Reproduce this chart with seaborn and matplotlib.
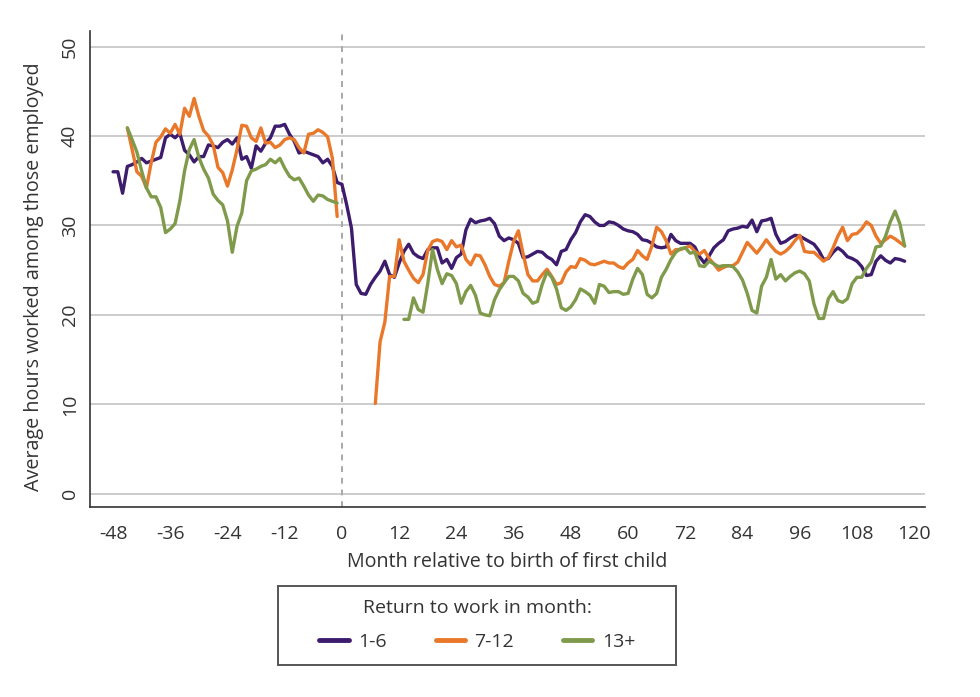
import numpy as np
import pandas as pd
import matplotlib.pyplot as plt
import seaborn as sns
from matplotlib.patches import Rectangle

# hours worked among those employed, by month relative to first birth
# return to work in month 1-6
months_1_6 = list(range(-48, 119))
hours_1_6 = [36.0, 36.0, 33.6, 36.6, 36.8, 37.1, 37.5, 37.0, 37.2, 37.4,
             37.6, 39.8, 40.2, 39.8, 40.3, 38.4, 37.9, 37.1, 37.7, 37.7,
             39.0, 38.9, 38.7, 39.3, 39.6, 39.1, 39.8, 37.4, 37.7, 36.4,
             38.9, 38.3, 39.2, 39.8, 41.1, 41.1, 41.3, 40.2, 39.4, 38.1,
             38.3, 38.1, 37.9, 37.7, 37.0, 37.4, 36.6, 34.8, 34.6, 32.3,
             29.7, 23.4, 22.4, 22.3, 23.4, 24.2, 24.9, 26.0, 24.5, 24.2,
             25.8, 27.1, 27.9, 26.9, 26.5, 26.3, 27.3, 27.5, 27.5, 25.8,
             26.2, 25.2, 26.4, 26.8, 29.5, 30.7, 30.3, 30.5, 30.6, 30.8,
             30.2, 28.8, 28.3, 28.6, 28.4, 28.0, 26.4, 26.5, 26.8, 27.1,
             27.0, 26.5, 26.2, 25.6, 27.1, 27.3, 28.4, 29.2, 30.4, 31.2,
             31.0, 30.4, 30.0, 30.0, 30.4, 30.3, 30.0, 29.6, 29.4, 29.3,
             29.0, 28.4, 28.3, 28.0, 27.6, 27.5, 27.6, 29.0, 28.3, 28.0,
             28.0, 28.0, 27.6, 26.5, 25.8, 26.6, 27.5, 28.0, 28.4, 29.4,
             29.6, 29.7, 29.9, 29.8, 30.6, 29.3, 30.5, 30.6, 30.8, 29.0,
             28.0, 28.2, 28.6, 28.9, 28.8, 28.5, 28.2, 27.9, 27.2, 26.2,
             26.3, 27.0, 27.5, 27.1, 26.5, 26.3, 26.0, 25.4, 24.4, 24.5,
             26.0, 26.6, 26.1, 25.8, 26.3, 26.2, 26.0]

# return to work in month 7-12
months_7_12_pre = list(range(-45, 0))
hours_7_12_pre = [40.9, 38.5, 36.0, 35.5, 34.2, 37.0, 39.3, 39.9, 40.8, 40.3,
                  41.3, 40.2, 43.1, 42.2, 44.2, 42.2, 40.6, 40.0, 39.0, 36.5,
                  35.9, 34.4, 36.2, 38.5, 41.2, 41.1, 39.8, 39.4, 40.9, 39.2,
                  39.3, 38.7, 39.0, 39.6, 39.8, 39.6, 38.7, 38.1, 40.2, 40.3,
                  40.7, 40.4, 39.9, 37.5, 31.0]
months_7_12_post = list(range(7, 119))
hours_7_12_post = [10.1, 17.0, 19.2, 24.3, 24.3, 28.4, 26.0, 25.0, 24.1, 23.6,
                   24.5, 27.2, 28.2, 28.4, 28.2, 27.3, 28.3, 27.6, 27.8, 26.2,
                   25.6, 26.7, 26.6, 25.6, 24.3, 23.4, 23.2, 23.6, 26.0, 28.2,
                   29.4, 26.8, 24.5, 23.8, 23.8, 24.5, 25.1, 24.3, 23.4, 23.6,
                   24.8, 25.4, 25.3, 26.3, 26.1, 25.7, 25.6, 25.8, 26.0, 25.8,
                   25.8, 25.4, 25.2, 25.8, 26.2, 27.2, 26.6, 26.2, 27.7, 29.8,
                   29.3, 28.3, 26.8, 27.3, 27.3, 27.5, 27.7, 27.1, 26.8, 27.2,
                   26.3, 25.7, 25.0, 25.3, 25.5, 25.5, 25.9, 27.0, 28.1, 27.5,
                   26.9, 27.6, 28.4, 27.7, 27.1, 26.8, 27.1, 27.6, 28.3, 28.9,
                   27.1, 27.0, 27.0, 26.5, 26.0, 26.4, 27.5, 28.8, 29.8, 28.3,
                   29.0, 29.1, 29.6, 30.4, 30.0, 28.8, 28.0, 28.4, 28.8, 28.5,
                   28.1, 27.7]

# return to work in month 13+
months_13_pre = list(range(-45, 0))
hours_13_pre = [40.9, 39.6, 38.2, 36.1, 34.2, 33.2, 33.2, 32.0, 29.2, 29.6,
                30.2, 32.7, 36.1, 38.5, 39.6, 37.6, 36.3, 35.3, 33.5, 32.8,
                32.3, 30.5, 27.0, 29.9, 31.4, 35.0, 36.1, 36.3, 36.6, 36.8,
                37.4, 37.0, 37.5, 36.4, 35.5, 35.1, 35.3, 34.4, 33.4, 32.7,
                33.4, 33.3, 32.9, 32.7, 32.5]
months_13_post = list(range(13, 119))
hours_13_post = [19.5, 19.5, 21.9, 20.6, 20.3, 23.5, 27.3, 25.1, 23.5, 24.6,
                 24.4, 23.5, 21.3, 22.6, 23.3, 22.2, 20.2, 20.0, 19.9, 21.7,
                 22.8, 23.6, 24.3, 24.3, 23.8, 22.4, 22.0, 21.3, 21.5, 23.4,
                 24.8, 24.2, 22.9, 20.8, 20.5, 20.9, 21.7, 22.9, 22.6, 22.2,
                 21.3, 23.4, 23.2, 22.5, 22.6, 22.6, 22.3, 22.4, 24.0, 25.2,
                 24.5, 22.3, 21.9, 22.4, 24.2, 25.1, 26.2, 27.0, 27.4, 27.5,
                 26.9, 27.0, 25.5, 25.4, 26.0, 25.7, 25.4, 25.5, 25.5, 25.4,
                 24.8, 23.9, 22.4, 20.5, 20.2, 23.2, 24.2, 26.2, 24.0, 24.5,
                 23.8, 24.3, 24.7, 24.9, 24.6, 23.8, 21.2, 19.6, 19.6, 21.8,
                 22.6, 21.6, 21.4, 21.8, 23.5, 24.2, 24.2, 25.2, 25.9, 27.6,
                 27.7, 28.8, 30.4, 31.6, 30.2, 27.7]

groups = ['1-6', '7-12', '13+']
colours = ['#3d1c6e', '#e9782a', '#7e9a4a']

segments = [
    ('1-6', 'all', months_1_6, hours_1_6),
    ('7-12', 'pre', months_7_12_pre, hours_7_12_pre),
    ('7-12', 'post', months_7_12_post, hours_7_12_post),
    ('13+', 'pre', months_13_pre, hours_13_pre),
    ('13+', 'post', months_13_post, hours_13_post),
]
df = pd.concat([pd.DataFrame({'month': m, 'hours': h, 'group': g, 'seg': g + s})
                for g, s, m, h in segments], ignore_index=True)

sns.set_style('white')
plt.rcParams['font.family'] = ['Open Sans', 'DejaVu Sans']
plt.rcParams['axes.unicode_minus'] = False

fig, ax = plt.subplots(figsize=(9.8, 6.97), dpi=100)
fig.subplots_adjust(left=0.092, right=0.944, top=0.955, bottom=0.273)

ax.yaxis.grid(True, color='#c8c8c8', lw=1.3)
ax.set_axisbelow(True)
ax.axvline(0, color='#a8a8a8', ls=(0, (3, 3)), lw=1.4, zorder=1)

sns.lineplot(data=df, x='month', y='hours', hue='group', hue_order=groups,
             units='seg', estimator=None, palette=dict(zip(groups, colours)),
             lw=2.4, ax=ax)

ax.set_xlim(-52.8, 122.3)
ax.set_ylim(-1.45, 51.7)
ax.set_xticks(range(-48, 121, 12))
ax.set_yticks(range(0, 51, 10))
for s in ['top', 'right']:
    ax.spines[s].set_visible(False)
for s in ['left', 'bottom']:
    ax.spines[s].set_color('#333333')
    ax.spines[s].set_linewidth(1.2)
ax.tick_params(direction='out', length=6, width=1.2, color='#333333',
               labelcolor='#333333', labelsize=14)
ax.tick_params(axis='x', pad=7)
ax.tick_params(axis='y', labelrotation=90, pad=2)
for lab in ax.get_yticklabels():
    lab.set_va('center')
ax.set_xlabel('Month relative to birth of first child', fontsize=14.2, color='#333333', labelpad=7)
ax.set_ylabel('Average hours worked among those employed', fontsize=14.2, color='#333333')
ax.yaxis.set_label_coords(-0.055, 0.484)

### legend: box drawn separately so it can be wider than its entries ###
sns.move_legend(ax, 'upper center', bbox_to_anchor=(0.487, 1 - 587 / 697),
                bbox_transform=fig.transFigure, ncol=3, borderaxespad=0,
                title='Return to work in month:', frameon=False,
                fontsize=14, title_fontsize=14, handlelength=1.5,
                columnspacing=2.5, borderpad=0.6, handletextpad=0.5,
                labelspacing=0.85)
leg = ax.get_legend()
for ln in leg.get_lines():
    ln.set_linewidth(3.5)
leg.get_title().set_color('#333333')
for t in leg.get_texts():
    t.set_color('#333333')
fig.patches.append(Rectangle((278 / 980, 1 - 665 / 697), 398 / 980, 79 / 697,
                             transform=fig.transFigure, fill=False,
                             edgecolor='#555555', lw=1.4))

plt.savefig('out.png', dpi=100)
